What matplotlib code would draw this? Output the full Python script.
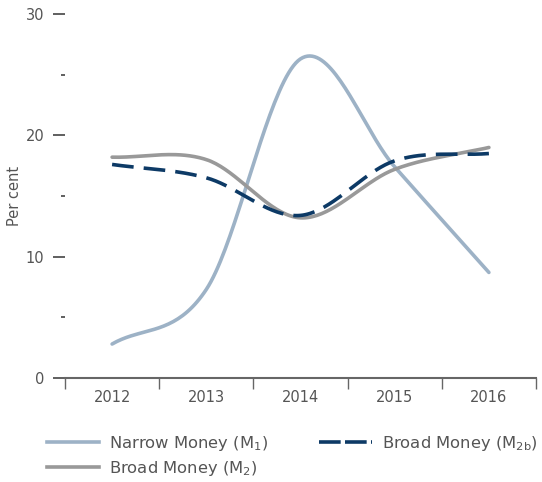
import numpy as np
import matplotlib
matplotlib.use("Agg")
import matplotlib.pyplot as plt
from matplotlib.lines import Line2D

years = ["2012", "2013", "2014", "2015", "2016"]
narrow_m1 = [2.8, 7.3, 26.3, 17.4, 8.7]
broad_m2 = [18.2, 18.0, 13.2, 17.2, 19.0]
broad_m2b = [17.6, 16.5, 13.4, 17.9, 18.5]

labels = ["Narrow Money (M$_\\mathregular{1}$)",
          "Broad Money (M$_\\mathregular{2}$)",
          "Broad Money (M$_\\mathregular{2b}$)"]
colors = ["#9db2c6", "#999999", "#0d3a66"]

plt.rcParams['font.family'] = ['DejaVu Sans']
txt = "#555555"


def catmull(x, y, n=40):
    x = np.asarray(x, float)
    y = np.asarray(y, float)
    px = np.concatenate([[2 * x[0] - x[1]], x, [2 * x[-1] - x[-2]]])
    py = np.concatenate([[2 * y[0] - y[1]], y, [2 * y[-1] - y[-2]]])
    xs, ys = [], []
    for i in range(1, len(px) - 2):
        t = np.linspace(0, 1, n, endpoint=(i == len(px) - 3))
        for P, out in ((px, xs), (py, ys)):
            p0, p1, p2, p3 = P[i - 1], P[i], P[i + 1], P[i + 2]
            m1 = (p2 - p0) / 2
            m2 = (p3 - p1) / 2
            h00 = 2 * t**3 - 3 * t**2 + 1
            h10 = t**3 - 2 * t**2 + t
            h01 = -2 * t**3 + 3 * t**2
            h11 = t**3 - t**2
            out.append(h00 * p1 + h10 * m1 + h01 * p2 + h11 * m2)
    return np.concatenate(xs), np.concatenate(ys)


fig = plt.figure(figsize=(5.42, 4.82), dpi=100)
ax = fig.add_axes([65 / 542, 1 - 378 / 482, 471 / 542, 364 / 482])

xpos = np.arange(len(years))
lw = 2.6
for vals, c, ls, lab in [(narrow_m1, colors[0], '-', labels[0]),
                         (broad_m2, colors[1], '-', labels[1]),
                         (broad_m2b, colors[2], (0, (6, 2.8)), labels[2])]:
    sx, sy = catmull(xpos, vals)
    ax.plot(sx, sy, color=c, lw=lw, ls=ls, solid_capstyle='round')

ax.set_xlim(-0.5, len(years) - 0.5)
ax.set_ylim(0, 30)
ax.set_xticks(np.arange(-0.5, len(years), 1.0))
ax.set_xticklabels([])
ax.set_xticks(xpos, minor=True)
ax.set_xticklabels(years, minor=True, fontsize=10.5, color=txt)
ax.tick_params(axis='x', which='major', length=8, width=1, color='#666666', direction='out')
ax.tick_params(axis='x', which='minor', length=0, pad=9)

ax.set_yticks([0, 10, 20, 30])
ax.set_yticks([5, 15, 25], minor=True)
ax.tick_params(axis='y', which='major', length=9, width=1.2, color='#444444', pad=6,
               labelsize=10.5, labelcolor=txt)
ax.tick_params(axis='y', which='minor', length=3, width=1.2, color='#444444')

for s in ['top', 'right', 'left']:
    ax.spines[s].set_visible(False)
ax.spines['bottom'].set_color('#666666')
ax.spines['bottom'].set_linewidth(1.5)

ax.set_ylabel("Per cent", fontsize=10.5, color=txt)
ax.yaxis.set_label_coords((22 - 65) / 471, 0.5)

handles = [Line2D([], [], color=colors[0], lw=lw),
           Line2D([], [], color=colors[1], lw=lw),
           Line2D([], [], color=colors[2], lw=lw, ls=(0, (6, 1.2)))]
fig.legend(handles, labels, ncol=2, loc='upper left', bbox_to_anchor=(47 / 542, 1 - 434 / 482),
           frameon=False, fontsize=11.8, handlelength=3.2, columnspacing=3.1,
           labelcolor=txt, handletextpad=0.6, labelspacing=0.35,
           borderpad=0, borderaxespad=0)

fig.savefig("out.png", dpi=100)
